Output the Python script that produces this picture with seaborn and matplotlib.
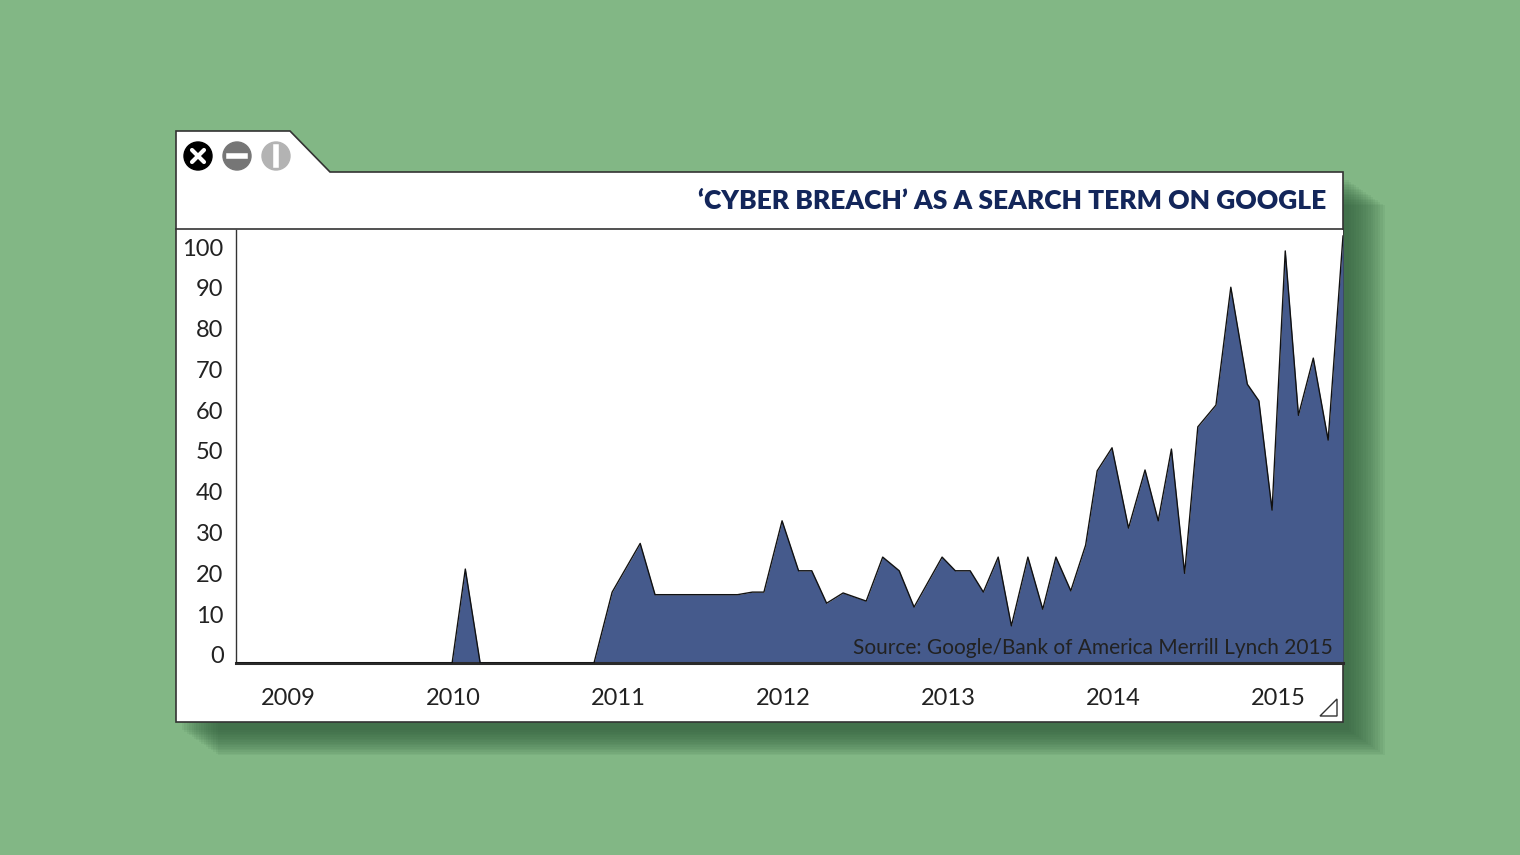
import numpy as np
import pandas as pd
import matplotlib
matplotlib.use("Agg")
import matplotlib.pyplot as plt
from matplotlib.patches import Polygon, Circle, Rectangle
import seaborn as sns

# ---- data (decimal year, search interest index) ----
years = [2008.68, 2009.99, 2010.07, 2010.16, 2010.85, 2010.96, 2011.13, 2011.22,
         2011.72, 2011.81, 2011.88, 2011.99, 2012.09, 2012.17, 2012.26, 2012.36,
         2012.50, 2012.60, 2012.70, 2012.79, 2012.96, 2013.04, 2013.13, 2013.21,
         2013.30, 2013.38, 2013.48, 2013.57, 2013.65, 2013.74, 2013.83, 2013.90,
         2013.99, 2014.09, 2014.19, 2014.27, 2014.35, 2014.43, 2014.51, 2014.62,
         2014.71, 2014.81, 2014.88, 2014.96, 2015.04, 2015.12, 2015.21, 2015.30,
         2015.39]
values = [0, 0, 22, 0, 0, 16.6, 28, 16,
          16, 16.6, 16.6, 33.3, 21.6, 21.6, 14, 16.4,
          14.5, 24.8, 21.6, 13.1, 24.8, 21.6, 21.6, 16.6,
          24.8, 8.7, 24.8, 12.6, 24.8, 16.9, 27.6, 45,
          50.4, 31.6, 45.2, 33.3, 50.1, 21, 55.3, 60.4,
          88, 65.3, 61.4, 35.8, 96.5, 58, 71.4, 52.2,
          100]
year_ticks = [2009, 2010, 2011, 2012, 2013, 2014, 2015]
y_ticks = [0, 10, 20, 30, 40, 50, 60, 70, 80, 90, 100]
title = "‘CYBER BREACH’ AS A SEARCH TERM ON GOOGLE"
source = "Source: Google/Bank of America Merrill Lynch 2015"

df = pd.DataFrame({"year": years, "value": values})

W, H = 1520, 855
fig = plt.figure(figsize=(W / 100, H / 100), dpi=100)
fig.patch.set_facecolor("#82b785")

bg = fig.add_axes([0, 0, 1, 1])
bg.set_xlim(0, W)
bg.set_ylim(H, 0)
bg.axis("off")

# shadow
for i in range(16):
    off = 6 + i * 2.4
    bg.add_patch(Rectangle((176 + off, 176 + off * 0.7), 1167, 550,
                           facecolor="#2e5a3a", alpha=0.075, edgecolor="none", zorder=1))
# window
win = [(176, 722), (176, 131), (290, 131), (330, 172), (1343, 172), (1343, 722)]
bg.add_patch(Polygon(win, closed=True, facecolor="white", edgecolor="#333333", lw=1.2, zorder=2))
bg.plot([176, 1343], [229, 229], color="#333333", lw=1.2, zorder=3)

# icons
bg.add_patch(Circle((198, 156), 14, color="black", zorder=4))
bg.plot([192, 204], [150, 162], color="white", lw=3, zorder=5, solid_capstyle="round")
bg.plot([192, 204], [162, 150], color="white", lw=3, zorder=5, solid_capstyle="round")
bg.add_patch(Circle((237, 156), 14, color="#767676", zorder=4))
bg.plot([229, 245], [156, 156], color="white", lw=4, zorder=5)
bg.add_patch(Circle((276, 156), 14, color="#b3b3b3", zorder=4))
bg.plot([276, 276], [147, 165], color="white", lw=4, zorder=5)

# resize triangle
bg.add_patch(Polygon([(1320, 716), (1337, 716), (1337, 699)], closed=True,
                     facecolor="none", edgecolor="#333333", lw=1, zorder=4))

bg.text(1326, 201, title, ha="right", va="center", fontsize=19, fontweight="heavy",
        family="Lato", color="#13265a", zorder=5)

# chart
ax = fig.add_axes([236 / W, (H - 663) / H, 1107 / W, 433 / H])
ax.set_facecolor("white")
ax.set_xlim(2008.68, 2015.39)
ax.set_ylim(0, 101.4)
ax.fill_between(df["year"], df["value"], 0, color="#455a8c", zorder=2, lw=0)
sns.lineplot(data=df, x="year", y="value", ax=ax, color="#111111", lw=1.0, zorder=3)
ax.set_xlabel("")
ax.set_ylabel("")
for s in ["top", "right"]:
    ax.spines[s].set_visible(False)
ax.spines["left"].set_color("#333333")
ax.spines["left"].set_linewidth(1)
ax.spines["bottom"].set_color("#2a2a2a")
ax.spines["bottom"].set_linewidth(2.2)
# label positions in the reference sit on a slightly compressed scale
ytick_pos = np.linspace(1.9, 97.4, len(y_ticks))
ax.set_yticks(ytick_pos)
ax.set_yticklabels([str(v) for v in y_ticks], family="Lato", fontsize=17, color="#222222")
ax.set_xticks(year_ticks)
ax.set_xticklabels([str(y) for y in year_ticks], family="Lato", fontsize=17, color="#222222")
ax.tick_params(axis="y", length=0, pad=9)
ax.tick_params(axis="x", length=0, pad=18)
ax.text(0.991, 0.012, source, transform=ax.transAxes, ha="right", va="bottom",
        family="Lato", fontsize=15, color="#222222", zorder=5)

fig.savefig("out.png", dpi=100, facecolor=fig.get_facecolor())
